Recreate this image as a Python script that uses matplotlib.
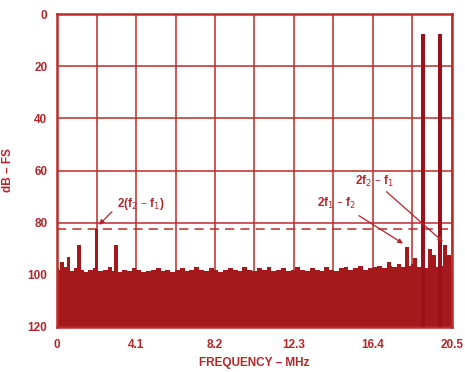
import matplotlib
matplotlib.use('Agg')
import numpy as np
import matplotlib.pyplot as plt

# colours
RED_TXT = '#b3262a'
RED_GRID = '#bd2b28'
RED_FILL = '#a5191d'

# noise floor (dB below full scale), one value every 0.25 MHz from 0 to 20.5
noise_freq = np.arange(0, 20.75, 0.25)
noise_level = [
    97.5, 98.0, 97.0, 98.5, 97.5, 98.0, 99.0, 98.0, 97.5, 98.5,
    98.0, 97.0, 98.5, 99.0, 98.0, 98.5, 97.5, 98.0, 99.0, 98.5,
    98.0, 97.5, 98.5, 98.0, 99.0, 98.0, 97.5, 98.5, 98.0, 97.0,
    98.0, 98.5, 97.5, 98.0, 99.0, 98.0, 97.5, 98.0, 98.5, 97.0,
    98.0, 98.5, 97.5, 98.0, 97.0, 98.5, 98.0, 97.5, 98.5, 98.0,
    97.0, 98.0, 98.5, 97.5, 98.0, 98.5, 97.0, 98.0, 98.5, 97.5,
    97.0, 98.0, 97.5, 96.5, 98.0, 97.5, 97.0, 96.5, 97.5, 96.5,
    97.0, 96.0, 97.0, 96.5, 96.0, 97.0, 96.5, 97.5, 96.5, 97.0,
    96.5, 97.0, 96.5,
]

# spurs
spur_freq = [0.25, 0.6, 1.15, 2.05, 3.05, 17.25, 18.15, 18.6, 19.35, 19.55, 20.15, 20.35]
spur_level = [95.0, 93.3, 88.7, 82.5, 88.7, 95.2, 89.2, 93.4, 90.0, 92.2, 88.7, 92.2]

# the two test tones
tone_freq = [19.0, 19.87]
tone_level = [7.7, 7.7]

x_ticks = [0, 4.1, 8.2, 12.3, 16.4, 20.5]
y_ticks = [0, 20, 40, 60, 80, 100, 120]
dashed_level = 82.5

plt.rcParams['font.family'] = ['Liberation Sans', 'DejaVu Sans']

fig = plt.figure(figsize=(4.65, 3.72), dpi=100)
ax = fig.add_axes([0.1226, 0.121, 0.8494, 0.841])

# grid first, data on top
for gx in np.arange(0, 20.6, 2.05):
    ax.axvline(gx, color=RED_GRID, lw=1.1, zorder=1)
for gy in y_ticks:
    ax.axhline(gy, color=RED_GRID, lw=1.1, zorder=1)
ax.axhline(dashed_level, color=RED_GRID, lw=1.1, ls=(0, (6, 4)), zorder=1)

ax.fill_between(noise_freq, noise_level, 120, step='mid', color=RED_FILL, lw=0, zorder=2)
ax.bar(spur_freq, [120 - v for v in spur_level], bottom=spur_level, width=0.2,
       color=RED_FILL, lw=0, zorder=2)
ax.bar(tone_freq, [120 - v for v in tone_level], bottom=tone_level, width=0.2,
       color='#9c0f1c', lw=0, zorder=3)

ax.set_xlim(0, 20.5)
ax.set_ylim(120, 0)
ax.set_xticks(x_ticks)
ax.set_xticklabels(['0', '4.1', '8.2', '12.3', '16.4', '20.5'])
ax.set_yticks(y_ticks)
ax.tick_params(length=0, colors=RED_TXT, labelsize=8.5)
ax.tick_params(axis='x', pad=9)
ax.tick_params(axis='y', pad=7)
for lab in ax.get_xticklabels() + ax.get_yticklabels():
    lab.set_fontweight('bold')
for sp in ax.spines.values():
    sp.set_color(RED_GRID)
    sp.set_linewidth(1.8)

ax.set_xlabel('FREQUENCY – MHz', color=RED_TXT, fontsize=8.5, fontweight='bold', labelpad=4)
ax.set_ylabel('dB – FS', color=RED_TXT, fontsize=8.5, fontweight='bold', labelpad=10)

akw = dict(color=RED_TXT, fontsize=8.5, fontweight='bold', ha='center', va='center', zorder=5)
apr = dict(arrowstyle='-|>', color=RED_TXT, lw=0.9, mutation_scale=7, shrinkA=0, shrinkB=0)

ax.text(4.35, 73.0, r'2(f$_2$ – f$_1$)', **akw)
ax.annotate('', xy=(2.18, 80.8), xytext=(2.85, 75.8), arrowprops=apr, zorder=5)

ax.text(16.5, 64.0, r'2f$_2$ – f$_1$', **akw)
ax.annotate('', xy=(20.03, 87.3), xytext=(17.1, 68.1), arrowprops=apr, zorder=5)

ax.text(14.5, 72.7, r'2f$_1$ – f$_2$', **akw)
ax.annotate('', xy=(17.96, 88.0), xytext=(15.67, 77.3), arrowprops=apr, zorder=5)

fig.savefig('out.png', dpi=100)
